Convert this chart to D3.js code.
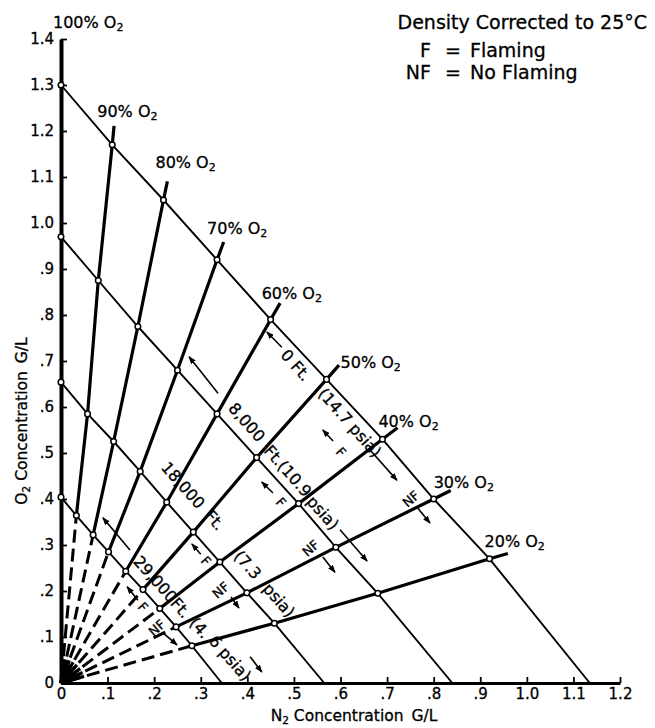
<!DOCTYPE html>
<html lang="en">
<head>
<meta charset="utf-8">
<title>O2 - N2 flaming chart</title>
<script src="https://cdnjs.cloudflare.com/ajax/libs/d3/7.8.5/d3.min.js"></script>
<style>
  body { margin: 0; background: #fff; }
  svg text { font-family: "DejaVu Sans", sans-serif; fill: #000; stroke: #000; stroke-width: 0.3px; }
</style>
</head>
<body>
<div id="chart"></div>
<script>
// O2 percent of each radial line (100% is the y axis)
var o2Pct = [100, 90, 80, 70, 60, 50, 40, 30, 20];
// pressure lines, psia, and the altitude each one stands for
var pressures = [14.7, 10.9, 7.3, 4.6];
var altitudes = ["0 Ft.", "8,000 Ft.", "18,000 Ft.", "29,000 Ft."];
// N2 / O2 (G/L) where each pressure line crosses 100%..20% O2, last point = N2 axis
var n2_147 = [0, 0.11, 0.22, 0.335, 0.45, 0.57, 0.69, 0.80, 0.92, 1.135];
var o2_147 = [1.30, 1.17, 1.05, 0.92, 0.79, 0.66, 0.53, 0.40, 0.27, 0];
var n2_109 = [0, 0.08, 0.165, 0.25, 0.335, 0.42, 0.51, 0.59, 0.68, 0.84];
var o2_109 = [0.97, 0.875, 0.775, 0.68, 0.585, 0.49, 0.39, 0.295, 0.195, 0];
var n2_73 = [0, 0.057, 0.113, 0.17, 0.227, 0.284, 0.341, 0.399, 0.458, 0.565];
var o2_73 = [0.654, 0.585, 0.525, 0.46, 0.393, 0.328, 0.263, 0.196, 0.13, 0];
var n2_46 = [0, 0.033, 0.069, 0.102, 0.139, 0.176, 0.212, 0.247, 0.281, 0.345];
var o2_46 = [0.404, 0.364, 0.322, 0.285, 0.243, 0.203, 0.162, 0.122, 0.081, 0];
// axis ticks
var xTicks = [0, 0.1, 0.2, 0.3, 0.4, 0.5, 0.6, 0.7, 0.8, 0.9, 1.0, 1.1, 1.2];
var xTickLabels = ["0", ".1", ".2", ".3", ".4", ".5", ".6", ".7", ".8", ".9", "1.0", "1.1", "1.2"];
var yTicks = [0, 0.1, 0.2, 0.3, 0.4, 0.5, 0.6, 0.7, 0.8, 0.9, 1.0, 1.1, 1.2, 1.3, 1.4];
var yTickLabels = ["0", ".1", ".2", ".3", ".4", ".5", ".6", ".7", ".8", ".9", "1.0", "1.1", "1.2", "1.3", "1.4"];

var lines = [
    {p: pressures[0], n2: n2_147, o2: o2_147},
    {p: pressures[1], n2: n2_109, o2: o2_109},
    {p: pressures[2], n2: n2_73, o2: o2_73},
    {p: pressures[3], n2: n2_46, o2: o2_46}
];

var w = 655, h = 728;
var svg = d3.select("#chart").append("svg").attr("width", w).attr("height", h);

var x = d3.scaleLinear().domain([0, 1.2]).range([61, 620]);
var y = d3.scaleLinear().domain([0, 1.4]).range([683, 39]);

var line = d3.line().x(function(d) { return x(d[0]); }).y(function(d) { return y(d[1]); });

// ---- radial lines (dashed near origin, solid beyond the 4.6 psia line)
var radials = [];
for (var i = 1; i < o2Pct.length; i++) {
    var p46 = [n2_46[i], o2_46[i]];
    var pts = [p46, [n2_73[i], o2_73[i]], [n2_109[i], o2_109[i]], [n2_147[i], o2_147[i]]];
    radials.push({pct: o2Pct[i], inner: [[0, 0], p46], outer: pts});
}

svg.append("g").selectAll("path")
    .data(radials)
    .enter()
    .append("path")
    .attr("d", function(d) { return line(d.inner); })
    .attr("fill", "none")
    .attr("stroke", "#000")
    .attr("stroke-width", 3)
    .attr("stroke-dasharray", "13,6")
    .attr("stroke-dashoffset", -8);

// the dashes run together into a black fan at the origin
svg.append("g").selectAll("path")
    .data(radials)
    .enter()
    .append("path")
    .attr("d", function(d) {
        var dx = x(d.inner[1][0]) - x(0), dy = y(d.inner[1][1]) - y(0);
        var len = Math.sqrt(dx * dx + dy * dy);
        return "M" + x(0) + "," + y(0) + "l" + (24 * dx / len) + "," + (24 * dy / len);
    })
    .attr("stroke", "#000")
    .attr("stroke-width", 3.4);

function tipOf(d) {
    var a = d.outer[0], b = d.outer[d.outer.length - 1];
    var dx = x(b[0]) - x(a[0]), dy = y(b[1]) - y(a[1]);
    var len = Math.sqrt(dx * dx + dy * dy);
    return [x(b[0]) + 19 * dx / len, y(b[1]) + 19 * dy / len];
}

svg.append("g").selectAll("path")
    .data(radials)
    .enter()
    .append("path")
    .attr("d", function(d) {
        var t = tipOf(d);
        return line(d.outer) + "L" + t[0] + "," + t[1];
    })
    .attr("fill", "none")
    .attr("stroke", "#000")
    .attr("stroke-width", 3.2)
    .attr("stroke-linejoin", "round");

// ---- constant pressure lines
svg.append("g").selectAll("path")
    .data(lines)
    .enter()
    .append("path")
    .attr("d", function(d) {
        return line(d.n2.map(function(v, j) { return [v, d.o2[j]]; }));
    })
    .attr("fill", "none")
    .attr("stroke", "#000")
    .attr("stroke-width", 1.9);

// ---- axes
var xAxis = d3.axisBottom(x)
    .tickValues(xTicks)
    .tickFormat(function(d, i) { return xTickLabels[i]; })
    .tickSizeInner(-6)
    .tickSizeOuter(0)
    .tickPadding(5);
var gx = svg.append("g").attr("transform", "translate(0," + y(0) + ")").call(xAxis);
gx.select(".domain").attr("stroke-width", 3);
gx.selectAll(".tick line").attr("stroke-width", 1.8);

var yAxis = d3.axisLeft(y)
    .tickValues(yTicks)
    .tickFormat(function(d, i) { return yTickLabels[i]; })
    .tickSizeInner(-6)
    .tickSizeOuter(0)
    .tickPadding(7);
var gy = svg.append("g").attr("transform", "translate(" + x(0) + ",0)").call(yAxis);
gy.select(".domain").attr("stroke-width", 4);
gy.selectAll(".tick line").attr("stroke-width", 1.8);

svg.selectAll(".tick text")
    .attr("font-size", 15)
    .attr("font-family", "DejaVu Sans, sans-serif");

// ---- intersection circles
var pts = [];
lines.forEach(function(l) {
    for (var j = 0; j < o2Pct.length; j++) pts.push([l.n2[j], l.o2[j]]);
});
svg.append("g").selectAll("circle")
    .data(pts)
    .enter()
    .append("circle")
    .attr("cx", function(d) { return x(d[0]); })
    .attr("cy", function(d) { return y(d[1]); })
    .attr("r", 2.8)
    .attr("fill", "#fff")
    .attr("stroke", "#000")
    .attr("stroke-width", 1.5);

// ---- radial labels, placed off the 14.7 psia crossing
var radialLabelOffset = [[-8, -57], [-15, -28], [-8, -32], [-10, -26], [-9, -21],
                         [14, -11], [-4, -12], [0, -11], [-5, -12]];
var rl = svg.append("g").selectAll("text")
    .data(o2Pct)
    .enter()
    .append("text")
    .attr("x", function(d, i) { return x(n2_147[i]) + radialLabelOffset[i][0]; })
    .attr("y", function(d, i) { return y(o2_147[i]) + radialLabelOffset[i][1]; })
    .attr("font-size", 16);
rl.append("tspan").text(function(d) { return d + "% O"; });
rl.append("tspan").attr("font-size", 11).attr("dy", 3).text("2");

// ---- pressure / altitude labels along the lines
var angle = Math.atan2(y(0) - y(o2_147[0]), x(n2_147[9]) - x(0)) * 180 / Math.PI;
var pLabels = [
    {t: altitudes[0], at: [0.504, 0.691]},
    {t: "(" + pressures[0] + " psia)", at: [0.620, 0.566]},
    {t: altitudes[1].replace(" Ft.", ""), at: [0.399, 0.567]},
    {t: "Ft.(" + pressures[1], at: [0.487, 0.461]},
    {t: "psia)", at: [0.562, 0.370]},
    {t: altitudes[2].replace(" Ft.", ""), at: [0.262, 0.430]},
    {t: "Ft.", at: [0.330, 0.354]},
    {t: "(" + pressures[2], at: [0.401, 0.257]},
    {t: "psia)", at: [0.468, 0.180]},
    {t: altitudes[3].replace(" ", ""), at: [0.217, 0.209]},
    {t: "(4.", at: [0.298, 0.120]},
    {t: "6 psia)", at: [0.363, 0.054]}
];
svg.append("g").selectAll("text")
    .data(pLabels)
    .enter()
    .append("text")
    .attr("transform", function(d) {
        return "translate(" + x(d.at[0]) + "," + y(d.at[1]) + ") rotate(" + angle + ")";
    })
    .attr("text-anchor", "middle")
    .attr("dy", "0.35em")
    .attr("font-size", 16)
    .text(function(d) { return d.t; });

// ---- arrows and F / NF flags
svg.append("defs").append("marker")
    .attr("id", "head")
    .attr("viewBox", "0 0 8 6")
    .attr("refX", 7)
    .attr("refY", 3)
    .attr("markerWidth", 8)
    .attr("markerHeight", 6)
    .attr("markerUnits", "userSpaceOnUse")
    .attr("orient", "auto")
    .append("path")
    .attr("d", "M0,0L8,3L0,6Z")
    .attr("fill", "#000");

var arrows = [
    [0.337, 0.630, 0.275, 0.709], [0.148, 0.289, 0.090, 0.359], [0.474, 0.730, 0.442, 0.763],
    [0.663, 0.507, 0.721, 0.441], [0.599, 0.333, 0.657, 0.265], [0.406, 0.057, 0.431, 0.024],
    [0.584, 0.526, 0.562, 0.550], [0.455, 0.413, 0.431, 0.437], [0.300, 0.280, 0.281, 0.302],
    [0.165, 0.180, 0.142, 0.209],
    [0.766, 0.380, 0.792, 0.348], [0.562, 0.274, 0.588, 0.241], [0.365, 0.187, 0.382, 0.163],
    [0.219, 0.109, 0.249, 0.083]
];
svg.append("g").selectAll("line")
    .data(arrows)
    .enter()
    .append("line")
    .attr("x1", function(d) { return x(d[0]); })
    .attr("y1", function(d) { return y(d[1]); })
    .attr("x2", function(d) { return x(d[2]); })
    .attr("y2", function(d) { return y(d[3]); })
    .attr("stroke", "#000")
    .attr("stroke-width", 1.6)
    .attr("marker-end", "url(#head)");

var flags = [
    {t: "F", at: [0.601, 0.502], r: angle}, {t: "F", at: [0.472, 0.393], r: angle},
    {t: "F", at: [0.311, 0.265], r: angle}, {t: "F", at: [0.176, 0.165], r: angle},
    {t: "NF", at: [0.751, 0.400], r: angle - 90}, {t: "NF", at: [0.536, 0.293], r: angle - 90},
    {t: "NF", at: [0.343, 0.202], r: angle - 90}, {t: "NF", at: [0.206, 0.120], r: angle - 90}
];
svg.append("g").selectAll("text")
    .data(flags)
    .enter()
    .append("text")
    .attr("transform", function(d) {
        return "translate(" + x(d.at[0]) + "," + y(d.at[1]) + ") rotate(" + d.r + ")";
    })
    .attr("text-anchor", "middle")
    .attr("dy", "0.35em")
    .attr("font-size", 13)
    .text(function(d) { return d.t; });

// ---- axis titles
var yt = svg.append("text")
    .attr("transform", "translate(27,421) rotate(-90)")
    .attr("text-anchor", "middle")
    .attr("font-size", 15.5);
yt.append("tspan").text("O");
yt.append("tspan").attr("font-size", 10.5).attr("dy", 3).text("2");
yt.append("tspan").attr("dy", -3).text(" Concentration");
yt.append("tspan").attr("dx", 8).text("G/L");

var xt = svg.append("text")
    .attr("x", 354)
    .attr("y", 721)
    .attr("text-anchor", "middle")
    .attr("font-size", 15.5);
xt.append("tspan").text("N");
xt.append("tspan").attr("font-size", 10.5).attr("dy", 3).text("2");
xt.append("tspan").attr("dy", -3).text(" Concentration");
xt.append("tspan").attr("dx", 8).text("G/L");

// ---- notes top right
svg.append("text").attr("x", 647).attr("y", 29).attr("text-anchor", "end")
    .attr("font-size", 19).text("Density Corrected to 25°C");
var keys = [["F", "Flaming"], ["NF", "No Flaming"]];
var kg = svg.append("g").selectAll("g")
    .data(keys)
    .enter()
    .append("g")
    .attr("transform", function(d, i) { return "translate(0," + (57 + i * 22) + ")"; });
kg.append("text").attr("x", 431).attr("text-anchor", "end").attr("font-size", 19)
    .text(function(d) { return d[0]; });
kg.append("text").attr("x", 453).attr("text-anchor", "middle").attr("font-size", 19).text("=");
kg.append("text").attr("x", 470).attr("font-size", 19)
    .text(function(d) { return d[1]; });
</script>
</body>
</html>
